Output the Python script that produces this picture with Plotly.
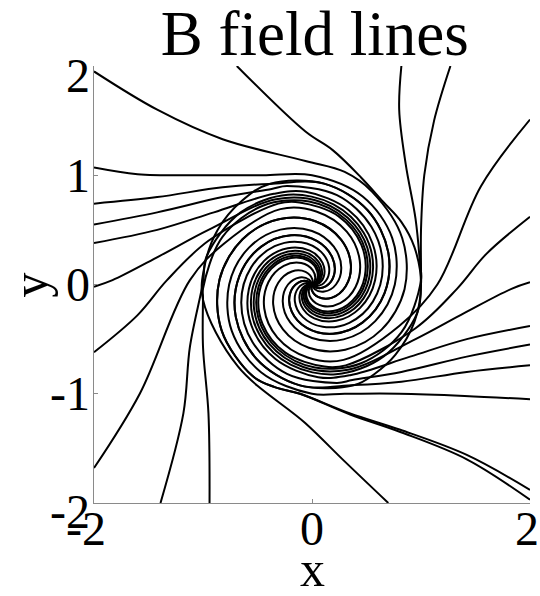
import math
import numpy as np
import plotly.graph_objects as go

# Outer part of every field line: from the frame edge inward to where it meets the spiral core
OUTER_X = [
    [-2.0, -1.6, -1.0, -0.45, 0.0],            # left edge y=1.07
    [-2.0, -1.42, -0.82, -0.39],               # left edge y=0.74
    [-2.0, -1.42, -0.82, -0.37],               # left edge y=0.55
    [-2.0, -1.42, -0.90, -0.35],               # left edge y=0.38
    [-2.0, -1.83, -1.40, -0.95, -0.33],        # left edge y=-0.02
    [-2.0, -1.60, -1.33, -0.95, -0.31],        # left edge y=-0.62
    [-2.0, -1.58, -1.12, -0.80, -0.29],        # left edge y=-1.68
    [-2.0, -1.42, -0.82, -0.06, 0.30, 0.55],   # top-left corner
    [-0.69, -0.06, 0.19, 0.45, 0.65],          # top edge x=-0.69
    [0.82, 0.80, 0.86, 0.95, 0.99],            # top edge x=0.82
    [1.27, 1.12, 1.03, 1.00, 1.00],            # top edge x=1.27
    [0.70, 0.29, -0.06, -0.68, -1.00],         # bottom edge x=0.70
    [2.0, 1.83, 1.40, 0.95, 0.33],             # right edge y=0.02
    [2.0, 1.42, 0.90, 0.35],                   # right edge y=-0.38
    [2.0, 1.42, 0.82, 0.37],                   # right edge y=-0.55
    [2.0, 1.42, 0.82, 0.39],                   # right edge y=-0.74
    [2.0, 1.40, 0.80, 0.30, 0.0],              # right edge y=-1.05
    [2.0, 1.55, 1.15, 0.80, 0.29],             # right edge y=1.51
    [2.0, 1.60, 1.33, 0.95, 0.31],             # right edge y=0.62
    [2.0, 1.42, 0.81, 0.35, -0.11],            # bottom-right corner
    [2.0, 1.42, 0.81, 0.35, -0.11],            # right edge y=-1.88
    [-0.94, -0.95, -1.00, -1.00],              # bottom edge x=-0.94
    [-1.39, -1.18, -1.12, -1.00],              # bottom edge x=-1.39
]
OUTER_Y = [
    [1.07, 1.01, 1.00, 1.00, 1.00],
    [0.74, 0.80, 0.89, 0.92],
    [0.55, 0.66, 0.80, 0.875],
    [0.38, 0.50, 0.66, 0.83],
    [-0.02, 0.04, 0.26, 0.50, 0.78],
    [-0.62, -0.28, 0.04, 0.40, 0.74],
    [-1.68, -1.00, 0.04, 0.38, 0.69],
    [1.95, 1.60, 1.33, 1.13, 1.03, 0.85],
    [2.0, 1.40, 1.23, 0.98, 0.76],
    [2.0, 1.60, 1.10, 0.60, 0.20],
    [2.0, 1.50, 1.00, 0.50, 0.15],
    [-2.0, -1.61, -1.27, -0.75, -0.14],
    [0.02, -0.04, -0.26, -0.50, -0.78],
    [-0.38, -0.50, -0.66, -0.83],
    [-0.55, -0.66, -0.80, -0.875],
    [-0.74, -0.80, -0.89, -0.92],
    [-1.05, -1.02, -1.00, -1.00, -1.00],
    [1.51, 0.90, 0.00, -0.38, -0.69],
    [0.62, 0.28, -0.04, -0.40, -0.74],
    [-1.97, -1.60, -1.35, -1.19, -1.00],
    [-1.88, -1.56, -1.33, -1.18, -1.00],
    [-2.0, -1.18, -0.57, -0.12],
    [-2.0, -1.18, -0.57, 0.02],
]
# Polar angles (deg) along which a line runs on the r = 1 circle before turning inward
WRAP_DEG = [
    [], [], [], [], [], [], [],
    [],
    [35, 20, 0, -20, -40, -55, -67],
    [2],
    [0, -15],
    [170, 150, 130, 113],
    [], [], [], [], [], [], [],
    [-110, -123],
    [-110, -123],
    [182],
    [165],
]

# Spiral core: clockwise turn (deg) versus radius along one field line
SPIRAL_TURN_DEG = [0, 30, 60, 90, 120, 150, 180, 210, 240, 270, 300, 330, 345]
SPIRAL_R = [1.00, 0.93, 0.85, 0.76, 0.67, 0.58, 0.49, 0.40, 0.31, 0.22, 0.13, 0.05, 0.0]

X_TICKS = [-2, 0, 2]
X_TICK_TEXT = ["-2", "0", "2"]
Y_TICKS = [-2, -1, 0, 1, 2]
Y_TICK_TEXT = ["-2", "-1", "0", "1", "2"]

CIRCLE_R = 1.0
FONT = "Liberation Serif"
TICK_SIZE = 48

turn = np.array(SPIRAL_TURN_DEG, dtype=float)
rad = np.array(SPIRAL_R, dtype=float)

fig = go.Figure()
for xs, ys, wrap in zip(OUTER_X, OUTER_Y, WRAP_DEG):
    px, py = list(xs), list(ys)
    for a in wrap:
        px.append(CIRCLE_R * math.cos(math.radians(a)))
        py.append(CIRCLE_R * math.sin(math.radians(a)))
    if wrap:
        r0, a0 = CIRCLE_R, wrap[-1]
    else:
        r0 = math.hypot(xs[-1], ys[-1])
        a0 = math.degrees(math.atan2(ys[-1], xs[-1]))
    # where along the core spiral this line joins it
    t0 = float(np.interp(min(r0, 1.0), rad[::-1], turn[::-1]))
    for t, rr in zip(turn, rad):
        if rr < r0 - 1e-9 and t > t0:
            a = math.radians(a0 - (t - t0))
            px.append(rr * math.cos(a))
            py.append(rr * math.sin(a))
    fig.add_trace(go.Scatter(
        x=px, y=py, mode="lines", hoverinfo="skip",
        line=dict(color="black", width=2, shape="spline", smoothing=1.0),
    ))

axis_common = dict(
    range=[-2, 2], showgrid=False, zeroline=False, showline=True,
    linecolor="#8a8a8a", linewidth=1, ticks="inside", ticklen=4,
    tickcolor="#8a8a8a", showticklabels=False, mirror=False,
)
fig.update_xaxes(**axis_common, tickvals=X_TICKS)
fig.update_yaxes(**axis_common, tickvals=Y_TICKS)

tick_font = dict(family=FONT, size=TICK_SIZE, color="black")
annotations = []
x_shift = {-2: -8, 0: 0, 2: -3}
for v, s in zip(X_TICKS, X_TICK_TEXT):
    annotations.append(dict(text=s, x=v, xref="x", y=-0.058, yref="paper",
                            xanchor="center", yanchor="middle", xshift=x_shift[v],
                            showarrow=False, font=tick_font))
y_shift = {-2: -8, -1: 0, 0: 0, 1: 0, 2: -9}
for v, s in zip(Y_TICKS, Y_TICK_TEXT):
    annotations.append(dict(text=s, x=-0.005, xref="paper", y=v, yref="y",
                            xanchor="right", yanchor="middle", yshift=y_shift[v],
                            showarrow=False, font=tick_font))
annotations.append(dict(text="x", xref="paper", yref="paper", x=0.5, y=-0.2128,
                        xanchor="center", yanchor="bottom", yshift=-3,
                        showarrow=False,
                        font=dict(family=FONT, size=50, color="black")))
annotations.append(dict(text="y", xref="paper", yref="paper", x=-0.2156, y=0.50,
                        xanchor="left", yanchor="middle",
                        showarrow=False, textangle=-90,
                        font=dict(family=FONT, size=50, color="black")))

fig.update_layout(
    width=540, height=596,
    margin=dict(l=94, r=10, t=66, b=93, autoexpand=False),
    paper_bgcolor="white", plot_bgcolor="white",
    showlegend=False,
    title=dict(text="B field lines", x=0.583, xanchor="center",
               y=0.945, yanchor="middle",
               font=dict(family=FONT, size=63, color="black")),
    annotations=annotations,
)

fig.write_html("out.html")
